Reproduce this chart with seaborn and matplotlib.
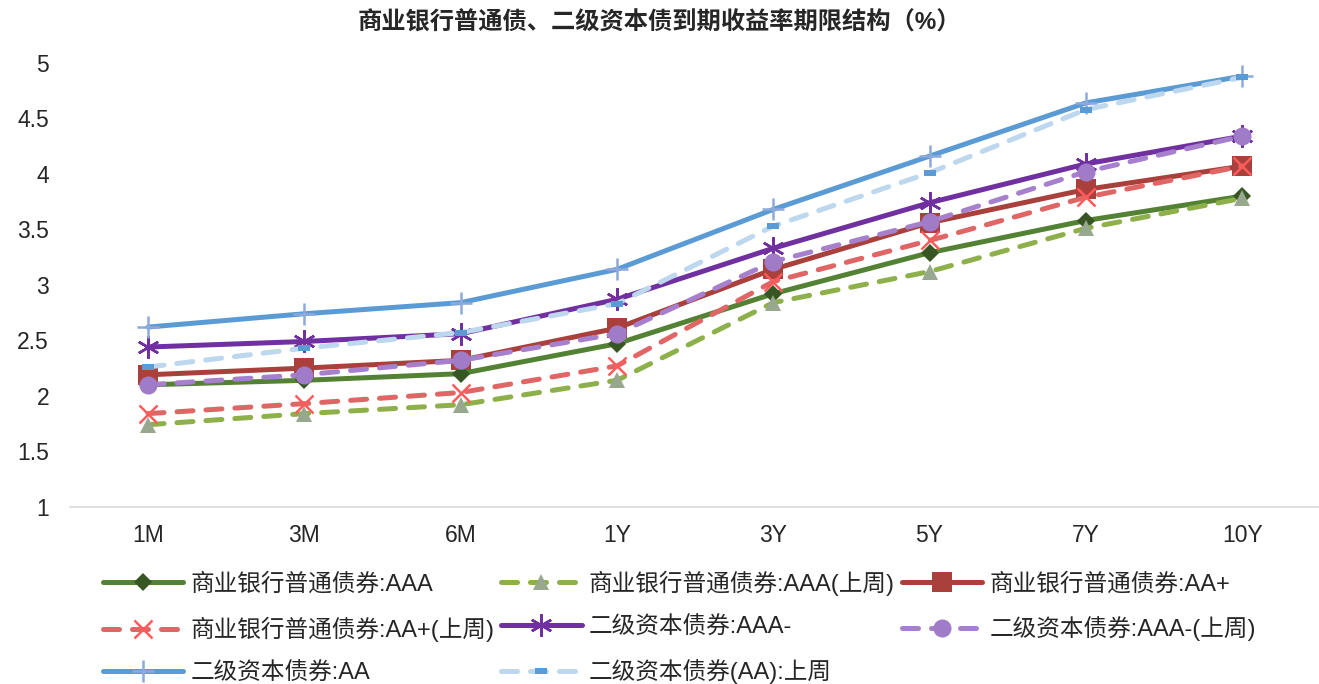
import matplotlib
matplotlib.use("Agg")
import matplotlib.pyplot as plt
import numpy as np
import pandas as pd
import seaborn as sns

tenors = ["1M", "3M", "6M", "1Y", "3Y", "5Y", "7Y", "10Y"]

aaa = [2.10, 2.14, 2.20, 2.47, 2.92, 3.29, 3.58, 3.80]
aaa_lw = [1.74, 1.84, 1.92, 2.14, 2.84, 3.12, 3.51, 3.78]
aa_plus = [2.19, 2.25, 2.32, 2.61, 3.14, 3.56, 3.86, 4.07]
aa_plus_lw = [1.84, 1.93, 2.03, 2.27, 3.03, 3.40, 3.79, 4.07]
tier2_aaa_minus = [2.44, 2.49, 2.56, 2.87, 3.33, 3.74, 4.09, 4.34]
tier2_aaa_minus_lw = [2.10, 2.19, 2.32, 2.56, 3.21, 3.57, 4.02, 4.34]
tier2_aa = [2.62, 2.74, 2.84, 3.14, 3.68, 4.16, 4.64, 4.88]
tier2_aa_lw = [2.26, 2.43, 2.57, 2.83, 3.53, 4.01, 4.58, 4.87]

names = [
    "商业银行普通债券:AAA",
    "商业银行普通债券:AAA(上周)",
    "商业银行普通债券:AA+",
    "商业银行普通债券:AA+(上周)",
    "二级资本债券:AAA-",
    "二级资本债券:AAA-(上周)",
    "二级资本债券:AA",
    "二级资本债券(AA):上周",
]
series = [aaa, aaa_lw, aa_plus, aa_plus_lw,
          tier2_aaa_minus, tier2_aaa_minus_lw, tier2_aa, tier2_aa_lw]

sns.set_theme(style="white")
plt.rcParams["font.family"] = ["Liberation Sans", "Noto Sans CJK SC"]

rect = [(-1, -0.45), (1, -0.45), (1, 0.45), (-1, 0.45), (-1, -0.45)]

# line color, dashed?, marker, marker color, marker size
styles = [
    ("#548235", False, "D", "#375623", 9),
    ("#8DB04A", True, "^", "#97A88E", 12),
    ("#A9403C", False, "s", "#A9403C", 14),
    ("#E06666", True, "x", "#FF5B5B", 13),
    ("#7030A0", False, (6, 2, 0), "#7030A0", 16),
    ("#A680CC", True, "o", "#A07BC8", 13),
    ("#5B9BD5", False, "+", "#8EA9DB", 16),
    ("#BDD7EE", True, rect, "#5B9BD5", 9),
]

fig = plt.figure(figsize=(13.19, 6.84), dpi=100)
ax = fig.add_axes([0.053, 0.259, 0.948, 0.649])

handles = []
for name, vals, (c, dashed, mk, mc, ms) in zip(names, series, styles):
    df = pd.DataFrame({"tenor": tenors, "y": vals})
    sns.lineplot(data=df, x="tenor", y="y", ax=ax, color=c, linewidth=3.6,
                 marker=mk, markersize=ms, markerfacecolor=mc,
                 markeredgecolor=mc, markeredgewidth=1.8 if mk in ("x", "+", (6, 2, 0)) else 0,
                 label=name, sort=False)
    line = ax.lines[-1]
    if dashed:
        line.set_linestyle((0, (3.2, 2.6)))
        line.set_dash_capstyle("round")
    handles.append(line)

ax.set_xlim(-0.5, 7.5)
ax.set_ylim(1, 5)
ax.set_yticks(np.arange(1, 5.01, 0.5))
ax.set_yticklabels(["1", "1.5", "2", "2.5", "3", "3.5", "4", "4.5", "5"])
ax.set_xlabel("")
ax.set_ylabel("")
for s in ["top", "right", "left"]:
    ax.spines[s].set_visible(False)
ax.spines["bottom"].set_color("#D9D9D9")
ax.spines["bottom"].set_linewidth(1.2)
ax.tick_params(axis="both", labelsize=16.5, length=0)
ax.tick_params(axis="x", pad=12)
ax.tick_params(axis="y", pad=15)
if ax.get_legend():
    ax.get_legend().remove()

fig.text(0.5, 0.967, "商业银行普通债、二级资本债到期收益率期限结构（%）",
         fontsize=17.5, fontweight="bold", ha="center", va="center")

order = [0, 3, 6, 1, 4, 7, 2, 5]
fig.legend([handles[i] for i in order], [names[i] for i in order],
           ncol=3, loc="upper left", bbox_to_anchor=(0.078, 0.166),
           frameon=False, fontsize=17, handlelength=3.4,
           columnspacing=0.3, handletextpad=0.3, labelspacing=0.88,
           borderaxespad=0, borderpad=0)

fig.savefig("out.png", dpi=100)
